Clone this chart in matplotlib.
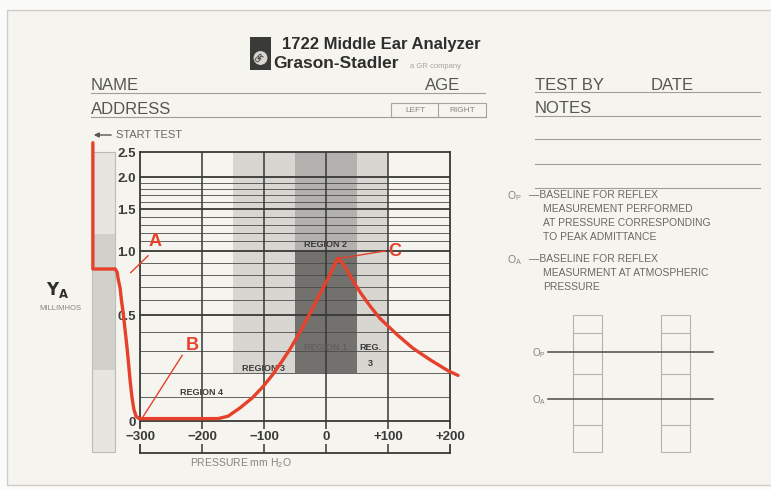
#!/usr/bin/env python3
"""Tympanogram record card (1722 Middle Ear Analyzer) redrawn with matplotlib."""

import matplotlib

matplotlib.use("Agg")
import matplotlib.pyplot as plt
import numpy as np
from matplotlib import font_manager
from matplotlib.patches import Circle, Rectangle

# ---- data read off the card ------------------------------------------------
# pressure (mm H2O) and admittance (millimhos); the first points sit in the
# "start test" strip to the left of -300
PRESSURE = [-376, -376, -340, -337, -335, -332, -330, -327, -324, -321, -318.5,
            -316, -313, -310, -306.5, -301.5, -174, -158, -139, -119, -102,
            -87, -73, -58, -42, -26, -10, 6, 19, 29, 39, 55, 71, 87, 115, 140,
            168, 197, 213]
ADMITTANCE = [2.7, 0.85, 0.85, 0.825, 0.76, 0.69, 0.60, 0.51, 0.41, 0.32, 0.245,
              0.17, 0.10, 0.05, 0.02, 0.01, 0.01, 0.02, 0.054, 0.096, 0.142,
              0.19, 0.245, 0.31, 0.40, 0.51, 0.645, 0.80, 0.94, 0.883, 0.79,
              0.66, 0.56, 0.48, 0.385, 0.315, 0.26, 0.21, 0.19]

X_TICKS = [-300, -200, -100, 0, 100, 200]
X_TICK_LABELS = ["\u2212300", "\u2212200", "\u2212100", "0", "+100", "+200"]
Y_TICKS = [0, 0.5, 1.0, 1.5, 2.0, 2.5]
Y_TICK_LABELS = ["0", "0.5", "1.0", "1.5", "2.0", "2.5"]
Y_MINOR = [0.1, 0.2, 0.3, 0.4, 0.6, 0.7, 0.8, 0.9, 1.1, 1.2, 1.3, 1.4,
           1.6, 1.7, 1.8, 1.9]

# shaded regions: (pressure from, pressure to, admittance from, admittance to)
REGION_SPANS = [(-150, -50, 0.2, 2.5), (50, 100, 0.2, 2.5),
                (-50, 50, 1.0, 2.5), (-50, 50, 0.2, 1.0)]
REGION_TEXT = ["REGION 2", "REGION 1", "REGION 3", "REG.", "3", "REGION 4"]
REGION_TEXT_P = [0, 0, -100, 71, 71, -200]
REGION_TEXT_Y = [1.07, 0.32, 0.22, 0.32, 0.245, 0.12]

# lettered points: label, point (p, y), label position (p, y), leader end
MARKS = [("A", (-315, 0.82), (-276, 1.10), (-287, 0.96)),
         ("B", (-297, 0.01), (-216, 0.33), (-232, 0.28)),
         ("C", (23, 0.94), (111, 1.00), (95, 1.00))]

# printed chart paper calibration: admittance -> height above zero line (px)
PAPER_VALUES = [0, 0.1, 0.2, 0.3, 0.4, 0.5, 0.6, 0.7, 0.8, 0.9, 1.0, 1.1, 1.2,
                1.3, 1.4, 1.5, 1.6, 1.7, 1.8, 1.9, 2.0, 2.5]
PAPER_HEIGHT = [0, 24, 48, 70, 89, 106, 121, 134, 146, 158, 170, 179.5, 188,
                196, 204, 212, 219, 225.5, 232, 238, 244, 268.5]

RED = "#e5412b"
GRID = "#383836"
CARD = "#f6f4ee"
FORM_TEXT = "#565654"
LIGHT_TEXT = "#858481"

names = {f.name for f in font_manager.fontManager.ttflist}
NARROW = "Liberation Sans Narrow" if "Liberation Sans Narrow" in names else "Liberation Sans"
plt.rcParams["font.family"] = ["Liberation Sans", "DejaVu Sans"]


def _to_paper(y):
    v = np.asarray(PAPER_VALUES, dtype=float)
    h = np.asarray(PAPER_HEIGHT, dtype=float)
    y = np.asarray(y, dtype=float)
    lo = h[1] / v[1]
    hi = (h[-1] - h[-2]) / (v[-1] - v[-2])
    out = np.interp(y, v, h)
    out = np.where(y < v[0], (y - v[0]) * lo, out)
    out = np.where(y > v[-1], h[-1] + (y - v[-1]) * hi, out)
    return out


def _from_paper(t):
    v = np.asarray(PAPER_VALUES, dtype=float)
    h = np.asarray(PAPER_HEIGHT, dtype=float)
    t = np.asarray(t, dtype=float)
    lo = h[1] / v[1]
    hi = (h[-1] - h[-2]) / (v[-1] - v[-2])
    out = np.interp(t, h, v)
    out = np.where(t < h[0], t / lo, out)
    out = np.where(t > h[-1], v[-1] + (t - h[-1]) / hi, out)
    return out


W, H = 771, 490
fig = plt.figure(figsize=(W / 100, H / 100), dpi=100)
fig.patch.set_facecolor("#fbfbf9")

# ---- the card itself, in pixel coordinates --------------------------------
bg = fig.add_axes([0, 0, 1, 1])
bg.set_xlim(0, W)
bg.set_ylim(H, 0)
bg.axis("off")
bg.add_patch(Rectangle((7, 10), 770, 475, facecolor=CARD, edgecolor="#cfcdc7", lw=1.0))

# header
bg.add_patch(Rectangle((250, 37), 21, 33, facecolor="#3a3a38", edgecolor="none"))
bg.add_patch(Circle((260.5, 58), 7.5, facecolor="#d8d6d0", edgecolor="#3a3a38", lw=0.8))
bg.text(260.5, 58, "GR", fontsize=5, fontweight="bold", color="#3a3a38",
        ha="center", va="center", rotation=45)
bg.text(282, 45, "1722 Middle Ear Analyzer", fontsize=12, fontweight="bold",
        color="#2e2e2c", va="center")
bg.text(273, 64, "Grason-Stadler", fontsize=12.5, fontweight="bold",
        color="#2e2e2c", va="center")
bg.text(410, 66, "a GR company", fontsize=5.5, color="#a5a4a0", va="center")

for txt, x, y in [("NAME", 91, 86), ("AGE", 425, 86), ("ADDRESS", 91, 109),
                  ("TEST BY", 535, 85), ("DATE", 651, 85), ("NOTES", 535, 108)]:
    bg.text(x, y, txt, fontsize=12, family=NARROW, color=FORM_TEXT, va="center")
for y, x0, x1 in [(93, 91, 485), (117, 91, 486), (92.5, 535, 760), (116, 535, 760),
                  (139, 535, 760), (164, 535, 760), (188, 535, 760)]:
    bg.plot([x0, x1], [y, y], color="#9e9d99", lw=0.8)
bg.add_patch(Rectangle((391, 103), 95, 14, facecolor="none", edgecolor="#a5a4a0", lw=0.8))
bg.plot([438, 438], [103, 117], color="#a5a4a0", lw=0.8)
bg.text(415, 110.5, "LEFT", fontsize=6, color=LIGHT_TEXT, ha="center", va="center")
bg.text(462, 110.5, "RIGHT", fontsize=6, color=LIGHT_TEXT, ha="center", va="center")

# legend notes on the right
note_rows = [("\u2014BASELINE FOR REFLEX", 529, 195), ("MEASUREMENT PERFORMED", 543, 209),
             ("AT PRESSURE CORRESPONDING", 543, 223), ("TO PEAK ADMITTANCE", 543, 237),
             ("\u2014BASELINE FOR REFLEX", 529, 259), ("MEASURMENT AT ATMOSPHERIC", 543, 273),
             ("PRESSURE", 543, 287)]
for txt, x, y in note_rows:
    bg.text(x, y, txt, fontsize=7.5, color="#6a6966", va="center")
bg.text(507, 196, r"O$_\mathregular{P}$", fontsize=7.5, color=LIGHT_TEXT, va="center")
bg.text(507, 260, r"O$_\mathregular{A}$", fontsize=7.5, color=LIGHT_TEXT, va="center")

# reflex boxes
for x0 in (573, 661):
    bg.add_patch(Rectangle((x0, 315), 29, 137, facecolor="none", edgecolor="#b3b2ae", lw=0.8))
    for y in (333, 374, 425):
        bg.plot([x0, x0 + 29], [y, y], color="#b3b2ae", lw=0.8)
for y, lab in [(352, "P"), (399, "A")]:
    bg.plot([548, 713], [y, y], color="#4a4a48", lw=1.1)
    bg.text(546, y + 1, rf"O$_\mathregular{{{lab}}}$", fontsize=7, color=LIGHT_TEXT,
            ha="right", va="center")

# start-test strip and axis titles
bg.add_patch(Rectangle((92, 152), 23, 300, facecolor="#e7e5df", edgecolor="#bdbcb7", lw=0.8))
bg.add_patch(Rectangle((92.5, 234), 22, 136, facecolor="#d2d0cb", edgecolor="none"))
bg.annotate("", xy=(91, 135), xytext=(114, 135),
            arrowprops=dict(arrowstyle="-|>", color="#555553", lw=1.0, mutation_scale=7))
bg.text(116, 135, "START TEST", fontsize=8, color="#6a6966", va="center")
bg.text(58, 290, r"$\mathbf{Y_A}$", fontsize=12, color="#2e2e2c", ha="center", va="center")
bg.text(60, 308, "MILLIMHOS", fontsize=5.5, color=LIGHT_TEXT, ha="center", va="center")
bg.text(190, 463, r"PRESSURE mm H$_\mathregular{2}$O", fontsize=7.5, color=LIGHT_TEXT, va="center")

# ---- the tympanogram ---------------------------------------------------------
ax = fig.add_axes([140 / W, (H - 453) / H, 310 / W, 300.5 / H])
ax.set_facecolor("none")
ax.set_yscale("function", functions=(_to_paper, _from_paper))
y_bottom = float(_from_paper(-32.0))
ax.set_xlim(X_TICKS[0], X_TICKS[-1])
ax.set_ylim(y_bottom, Y_TICKS[-1])

shades = ["#d8d6d1", "#d8d6d1", "#b3b1ad", "#73716e"]
for (p0, p1, y0, y1), shade in zip(REGION_SPANS, shades):
    ax.bar(p0, y1 - y0, bottom=y0, width=p1 - p0, align="edge",
           color=shade, edgecolor="none", zorder=1)

ax.hlines(Y_MINOR, X_TICKS[0], X_TICKS[-1], color="#4a4a48", lw=0.6, zorder=2)
ax.hlines(Y_TICKS[:-1], X_TICKS[0], X_TICKS[-1], color=GRID, lw=1.3, zorder=2)
ax.vlines(X_TICKS[1:-1], y_bottom, Y_TICKS[-1], color=GRID, lw=1.1, zorder=2)
for side in ax.spines.values():
    side.set_color(GRID)
    side.set_linewidth(1.3)

ax.set_xticks([])
ax.set_yticks(Y_TICKS, Y_TICK_LABELS)
ax.minorticks_off()
ax.tick_params(axis="y", length=0, pad=3, labelsize=9.5, labelcolor="#3a3a38")
for lab in ax.get_yticklabels():
    lab.set_fontweight("bold")

for p, lab in zip(X_TICKS, X_TICK_LABELS):
    ax.text(p, 0.054, lab, transform=ax.get_xaxis_transform(), fontsize=9.5,
            fontweight="bold", color="#3a3a38", ha="center", va="center", zorder=3,
            bbox=dict(boxstyle="square,pad=0.1", facecolor=CARD, edgecolor="none"))

for txt, p, y in zip(REGION_TEXT, REGION_TEXT_P, REGION_TEXT_Y):
    color = "#62605d" if txt == "REGION 1" else "#3a3a38"
    ax.text(p, y, txt, fontsize=6.5, fontweight="bold", color=color,
            ha="center", va="center", zorder=3)

ax.plot(PRESSURE, ADMITTANCE, color=RED, lw=2.4, clip_on=False,
        solid_joinstyle="round", solid_capstyle="round", zorder=6)

for letter, (pp, py), (tp, ty), (lp, ly) in MARKS:
    ax.plot([pp, lp], [py, ly], color=RED, lw=1.0, clip_on=False, zorder=6)
    ax.text(tp, ty, letter, fontsize=13, fontweight="bold", color=RED,
            ha="center", va="center", zorder=7, clip_on=False)

fig.savefig("out.png", dpi=100, facecolor=fig.get_facecolor())
plt.close(fig)
